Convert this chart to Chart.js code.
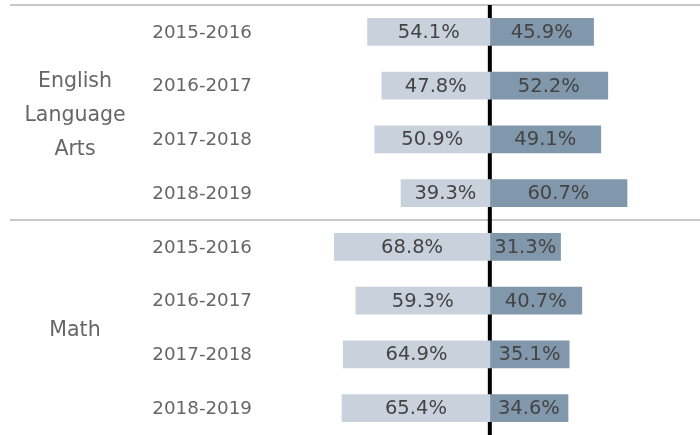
<!DOCTYPE html>
<html lang="en">
<head>
    <meta charset="UTF-8">
    <title>Diverging Bars</title>
    <script src="https://cdn.jsdelivr.net/npm/chart.js"></script>
    <style>
        html, body { margin: 0; padding: 0; background: #fff; }
        #wrap { width: 700px; height: 435px; }
    </style>
</head>
<body>
    <div id="wrap"><canvas id="myChart"></canvas></div>
    <script>
        // data
        const subjects = ['English\nLanguage\nArts', 'Math'];
        const years = ['2015-2016', '2016-2017', '2017-2018', '2018-2019'];
        const elaLeft = [54.1, 47.8, 50.9, 39.3];
        const elaRight = [45.9, 52.2, 49.1, 60.7];
        const mathLeft = [68.8, 59.3, 64.9, 65.4];
        const mathRight = [31.3, 40.7, 35.1, 34.6];

        const labels = years.concat(years);
        const leftValues = elaLeft.concat(mathLeft);
        const rightValues = elaRight.concat(mathRight);

        const FONT = '"DejaVu Sans", sans-serif';

        const extras = {
            id: 'extras',
            beforeDatasetsDraw(chart) {
                const ctx = chart.ctx;
                const x = chart.scales.x;
                const y = chart.scales.y;
                const step = y.getPixelForValue(1) - y.getPixelForValue(0);
                const top = y.getPixelForValue(0) - step / 2;
                const mid = y.getPixelForValue(4) - step / 2;
                ctx.save();
                // separators
                ctx.strokeStyle = '#c8c8c8';
                ctx.lineWidth = 2;
                [top, mid].forEach(py => {
                    ctx.beginPath();
                    ctx.moveTo(10, py);
                    ctx.lineTo(chart.width, py);
                    ctx.stroke();
                });
                // zero line
                const x0 = x.getPixelForValue(0);
                ctx.strokeStyle = '#000';
                ctx.lineWidth = 4;
                ctx.beginPath();
                ctx.moveTo(x0, top);
                ctx.lineTo(x0, chart.height);
                ctx.stroke();

                // year labels (category ticks)
                ctx.fillStyle = '#666';
                ctx.font = '18.3px ' + FONT;
                ctx.textAlign = 'right';
                ctx.textBaseline = 'middle';
                chart.data.labels.forEach((lab, i) => {
                    ctx.fillText(lab, 252, y.getPixelForValue(i) + 1);
                });

                // group labels
                ctx.font = '20.5px ' + FONT;
                ctx.textAlign = 'center';
                subjects.forEach((s, i) => {
                    const lines = s.split('\n');
                    const cy = (y.getPixelForValue(i * 4 + 1) + y.getPixelForValue(i * 4 + 2)) / 2;
                    const lh = 34;
                    lines.forEach((ln, j) => {
                        ctx.fillText(ln, 75, cy + (j - (lines.length - 1) / 2) * lh + 3);
                    });
                });
                ctx.restore();
            },
            afterDatasetsDraw(chart) {
                const ctx = chart.ctx;
                ctx.save();
                ctx.fillStyle = '#444';
                ctx.font = '19.5px ' + FONT;
                ctx.textAlign = 'center';
                ctx.textBaseline = 'middle';
                chart.data.datasets.forEach((ds, di) => {
                    chart.getDatasetMeta(di).data.forEach((bar, i) => {
                        const v = Math.abs(ds.data[i]);
                        const cx = (bar.x + bar.base) / 2;
                        ctx.fillText(v.toFixed(1) + '%', cx, bar.y + 1);
                    });
                });
                ctx.restore();
            }
        };

        const ctx = document.getElementById('myChart').getContext('2d');
        new Chart(ctx, {
            type: 'bar',
            data: {
                labels: labels,
                datasets: [{
                    label: 'Left',
                    data: leftValues.map(v => -v),
                    backgroundColor: '#c9d2dc',
                    barThickness: 27
                }, {
                    label: 'Right',
                    data: rightValues,
                    backgroundColor: '#8198ac',
                    barThickness: 27
                }]
            },
            options: {
                indexAxis: 'y',
                responsive: true,
                maintainAspectRatio: false,
                animation: false,
                layout: { padding: { top: 5, right: 0, bottom: 0, left: 300 } },
                plugins: {
                    legend: { display: false },
                    tooltip: { enabled: false }
                },
                scales: {
                    x: {
                        display: false,
                        stacked: true,
                        min: -84,
                        max: 93
                    },
                    y: {
                        display: false,
                        stacked: true
                    }
                }
            },
            plugins: [extras]
        });
    </script>
</body>
</html>
